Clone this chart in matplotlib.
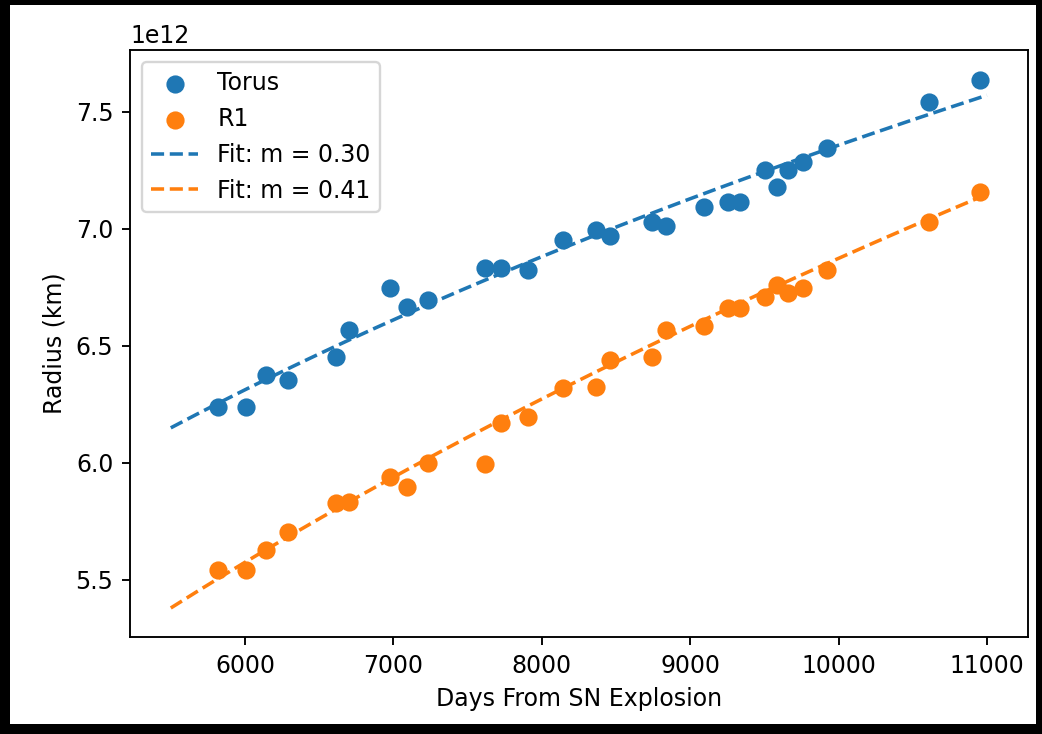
import numpy as np
import matplotlib
matplotlib.use("Agg")
import matplotlib.pyplot as plt
from matplotlib.patches import Rectangle

# Data, radius in units of 1e12 km
days = [5818, 6007, 6140, 6290, 6615, 6700, 6977, 7092, 7233, 7620, 7725,
        7905, 8140, 8365, 8460, 8745, 8835, 9095, 9255, 9335, 9504, 9585,
        9659, 9760, 9922, 10610, 10953]
torus = [6.239, 6.239, 6.376, 6.355, 6.453, 6.568, 6.748, 6.667, 6.697,
         6.833, 6.833, 6.825, 6.953, 6.996, 6.970, 7.030, 7.012, 7.094,
         7.115, 7.115, 7.252, 7.180, 7.252, 7.286, 7.346, 7.543, 7.637]
r1 = [5.543, 5.543, 5.628, 5.705, 5.829, 5.835, 5.940, 5.897, 6.000,
      5.995, 6.171, 6.197, 6.320, 6.325, 6.440, 6.453, 6.568, 6.585,
      6.662, 6.662, 6.710, 6.760, 6.726, 6.748, 6.825, 7.030, 7.158]

# Power-law fits R = R0 * (t / t0) ** m
fit_t0, fit_t1 = 5500, 11000
torus_m, torus_r0 = 0.30, 6.15
r1_m, r1_r0 = 0.41, 5.38
fit_labels = ["Fit: m = 0.30", "Fit: m = 0.41"]
scale = 1e12

W, H, DPI = 1042, 734, 170
fig = plt.figure(figsize=(W / DPI, H / DPI), dpi=DPI, facecolor="black")
fig.patches.append(Rectangle((10 / W, 10 / H), (W - 16) / W, (H - 15) / H,
                             transform=fig.transFigure, facecolor="white",
                             edgecolor="none", zorder=-1))

ax = fig.add_axes([130 / W, 1 - 637 / H, (1028 - 130) / W, (637 - 50) / H])

ax.scatter(days, np.array(torus) * scale, s=45, color="#1f77b4", label="Torus")
ax.scatter(days, np.array(r1) * scale, s=45, color="#ff7f0e", label="R1")

tt = np.linspace(fit_t0, fit_t1, 200)
ax.plot(tt, torus_r0 * (tt / fit_t0) ** torus_m * scale, "--", color="#1f77b4",
        lw=1.5, label=fit_labels[0])
ax.plot(tt, r1_r0 * (tt / fit_t0) ** r1_m * scale, "--", color="#ff7f0e",
        lw=1.5, label=fit_labels[1])

ax.set_xlim(5225, 11277)
ax.set_ylim(5.256e12, 7.765e12)
ax.set_xticks([6000, 7000, 8000, 9000, 10000, 11000])
ax.set_yticks(np.array([5.5, 6.0, 6.5, 7.0, 7.5]) * scale)

ax.set_xlabel("Days From SN Explosion")
ax.set_ylabel("Radius (km)")
ax.legend(loc="upper left")

fig.savefig("out.png", dpi=DPI, facecolor=fig.get_facecolor())
